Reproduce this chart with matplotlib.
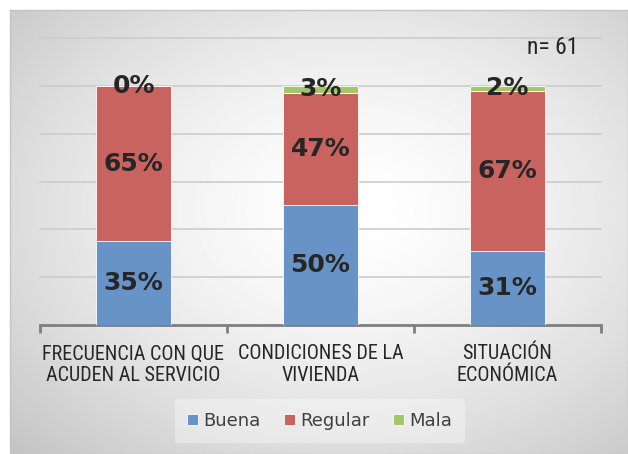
import numpy as np
import matplotlib
matplotlib.use("Agg")
import matplotlib.pyplot as plt
from matplotlib import font_manager

categories = ["FRECUENCIA CON QUE\nACUDEN AL SERVICIO", "CONDICIONES DE LA\nVIVIENDA", "SITUACIÓN\nECONÓMICA"]
buena = [35, 50, 31]
regular = [65, 47, 67]
mala = [0, 3, 2]
series = [("Buena", buena, "#6893c7"), ("Regular", regular, "#c8635f"), ("Mala", mala, "#a3c66b")]
grid_levels = [0.2, 0.4, 0.6, 0.8, 1.0, 1.2]

# pick a narrow font for the axis labels if one is installed
names = {f.name for f in font_manager.fontManager.ttflist}
narrow = "Liberation Sans"
for cand in ["Liberation Sans Narrow", "DejaVu Sans Condensed", "Roboto Condensed", "Open Sans Condensed"]:
    if cand in names:
        narrow = cand
        break
cat_size = 14.5 if narrow != "Liberation Sans" else 11

W, H = 628, 454
fig = plt.figure(figsize=(W / 100, H / 100), dpi=100)
fig.patch.set_facecolor("white")

# background panel with radial gradient
bg = fig.add_axes([10 / W, 0, (W - 10) / W, (H - 10) / H])
yy, xx = np.mgrid[0:1:300j, 0:1:400j]
r = np.sqrt(((xx - 0.55) / 0.7) ** 2 + ((yy - 0.45) / 0.7) ** 2)
grad = 1.0 - 0.2 * np.clip(r, 0, 1.3) ** 1.5
bg.imshow(grad, cmap="gray", vmin=0, vmax=1, aspect="auto", extent=[0, 1, 0, 1], interpolation="bilinear")
bg.set_xticks([])
bg.set_yticks([])
for s in bg.spines.values():
    s.set_color("#c4c4c4")
    s.set_linewidth(1.0)

ax = fig.add_axes([40 / W, (H - 325) / H, (601 - 40) / W, (325 - 38) / H])
ax.patch.set_alpha(0)
x = np.arange(len(categories))
bottom = np.zeros(len(categories))
for name, vals, col in series:
    v = np.array(vals) / 100
    ax.bar(x, v, 0.4, bottom=bottom, color=col, edgecolor="white", linewidth=0.6, label=name, zorder=3)
    for xi, b, vi, lab in zip(x, bottom, v, vals):
        ax.text(xi, b + vi / 2, f"{lab}%", ha="center", va="center", fontsize=18,
                fontweight="bold", color="#262626", zorder=4)
    bottom += v

ax.set_xlim(-0.5, 2.5)
ax.set_ylim(0, 1.2)
ax.set_yticks(grid_levels)
ax.yaxis.grid(True, color="#cccccc", linewidth=1.2, zorder=0)
for gl in ax.get_ygridlines():
    gl.set_clip_on(False)
ax.tick_params(axis="y", length=0, labelleft=False)
for s in ["left", "right", "top"]:
    ax.spines[s].set_visible(False)
ax.spines["bottom"].set_color("#7f7f7f")
ax.spines["bottom"].set_linewidth(2)
ax.set_xticks([-0.5, 0.5, 1.5, 2.5])
ax.set_xticklabels([])
ax.tick_params(axis="x", which="major", length=6, width=2, color="#7f7f7f", direction="out")
ax.set_xticks(x, minor=True)
ax.set_xticklabels(categories, minor=True, fontsize=cat_size, color="#262626", family=narrow)
ax.tick_params(axis="x", which="minor", length=0, pad=14)

fig.text(578 / W, 1 - 48 / H, "n= 61", ha="right", va="center", fontsize=17, color="#262626", family=narrow)

leg = fig.legend(loc="center", bbox_to_anchor=(320 / W, 1 - 421 / H), ncol=3, frameon=True,
                 fontsize=13, handlelength=0.6, handleheight=0.6, handletextpad=0.3,
                 columnspacing=1.3, borderpad=0.7)
leg.get_frame().set_facecolor("white")
leg.get_frame().set_alpha(0.35)
leg.get_frame().set_edgecolor("none")
for t in leg.get_texts():
    t.set_color("#404040")

fig.savefig("out.png", dpi=100)
